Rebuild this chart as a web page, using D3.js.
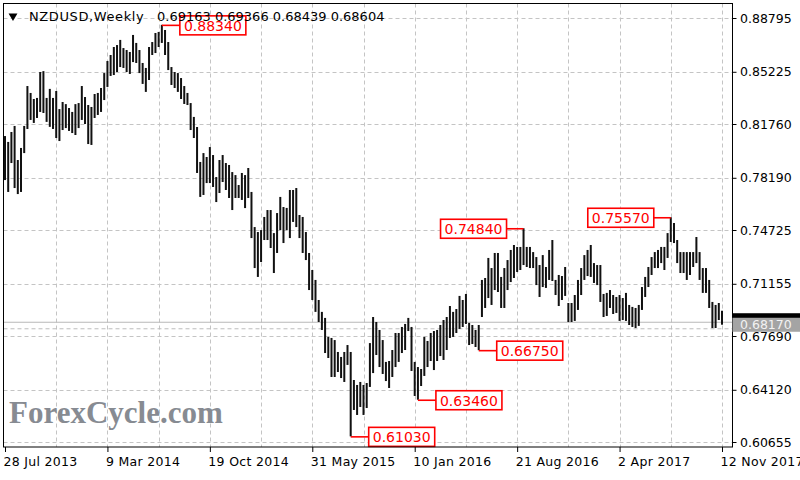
<!DOCTYPE html>
<html>
<head>
<meta charset="utf-8">
<script src="https://cdn.jsdelivr.net/npm/d3@7"></script>
<style>
  html, body { margin: 0; padding: 0; background: #fff; }
  svg { display: block; font-family: "DejaVu Sans", Verdana, sans-serif; }
</style>
</head>
<body>
<svg id="chart" width="800" height="480"></svg>
<script>
// ---- chart data ----
const symbol = "NZDUSD,Weekly";
const lastBar = [0.69163, 0.69366, 0.68439, 0.68604]; // open high low close
const firstWeek = "28 Jul 2013";

const highs = [
  0.8096, 0.8057, 0.8123, 0.8163, 0.7937, 0.8017, 0.8163, 0.8428, 0.8382, 0.8342,
  0.8349, 0.8521, 0.8527, 0.8349, 0.8409, 0.8349, 0.8395, 0.8275, 0.8322, 0.8308,
  0.8282, 0.8256, 0.8308, 0.8315, 0.8428, 0.8355, 0.8302, 0.8289, 0.8375, 0.8382,
  0.8415, 0.8514, 0.8594, 0.8634, 0.8687, 0.8700, 0.8734, 0.8680, 0.8667, 0.8654,
  0.8767, 0.8714, 0.8667, 0.8581, 0.8548, 0.8687, 0.8720, 0.8780, 0.8787, 0.8834,
  0.8800, 0.8720, 0.8554, 0.8521, 0.8514, 0.8481, 0.8428, 0.8382, 0.8315, 0.8223,
  0.8156, 0.7924, 0.7983, 0.7957, 0.8023, 0.7970, 0.7824, 0.7937, 0.7970, 0.7917,
  0.7904, 0.7857, 0.7837, 0.7771, 0.7851, 0.7837, 0.7884, 0.7725, 0.7492, 0.7459,
  0.7472, 0.7559, 0.7605, 0.7605, 0.7452, 0.7585, 0.7692, 0.7625, 0.7619, 0.7738,
  0.7738, 0.7751, 0.7572, 0.7559, 0.7459, 0.7320, 0.7207, 0.7141, 0.7008, 0.6929,
  0.6889, 0.6763, 0.6756, 0.6742, 0.6663, 0.6630, 0.6663, 0.6709, 0.6663, 0.6477,
  0.6444, 0.6464, 0.6444, 0.6457, 0.6722, 0.6895, 0.6862, 0.6809, 0.6742, 0.6597,
  0.6603, 0.6676, 0.6789, 0.6789, 0.6829, 0.6849, 0.6889, 0.6829, 0.6597, 0.6563,
  0.6550, 0.6763, 0.6736, 0.6789, 0.6802, 0.6809, 0.6842, 0.6875, 0.6895, 0.6968,
  0.6929, 0.6948, 0.7035, 0.7008, 0.7048, 0.6856, 0.6842, 0.6809, 0.6842, 0.7141,
  0.7154, 0.7287, 0.7220, 0.7320, 0.7320, 0.7161, 0.7220, 0.7273, 0.7340, 0.7373,
  0.7360, 0.7360, 0.7484, 0.7360, 0.7360, 0.7326, 0.7293, 0.7240, 0.7306, 0.7227,
  0.7340, 0.7406, 0.7141, 0.7174, 0.7167, 0.7227, 0.6988, 0.6988, 0.7041, 0.7141,
  0.7220, 0.7306, 0.7340, 0.7373, 0.7253, 0.7240, 0.7240, 0.7048, 0.7055, 0.7074,
  0.7041, 0.7028, 0.7041, 0.7021, 0.7055, 0.6975, 0.6962, 0.6955, 0.6975, 0.7094,
  0.7161, 0.7227, 0.7293, 0.7326, 0.7340, 0.7360, 0.7360, 0.7452, 0.7557, 0.7519,
  0.7406, 0.7326, 0.7326, 0.7326, 0.7326, 0.7326, 0.7426, 0.7326, 0.7220, 0.7220,
  0.7141, 0.6995, 0.6975, 0.6988, 0.69366
];

const lows = [
  0.7804, 0.7725, 0.7917, 0.7751, 0.7711, 0.7725, 0.7983, 0.8143, 0.8203, 0.8183,
  0.8216, 0.8256, 0.8249, 0.8190, 0.8157, 0.8143, 0.8083, 0.8063, 0.8136, 0.8149,
  0.8130, 0.8116, 0.8103, 0.8149, 0.8203, 0.8176, 0.8043, 0.8037, 0.8216, 0.8236,
  0.8256, 0.8335, 0.8422, 0.8495, 0.8501, 0.8521, 0.8554, 0.8548, 0.8521, 0.8508,
  0.8587, 0.8581, 0.8514, 0.8442, 0.8389, 0.8468, 0.8634, 0.8647, 0.8687, 0.8714,
  0.8634, 0.8534, 0.8435, 0.8415, 0.8389, 0.8342, 0.8309, 0.8302, 0.8136, 0.8083,
  0.7851, 0.7692, 0.7705, 0.7784, 0.7784, 0.7758, 0.7658, 0.7718, 0.7791, 0.7738,
  0.7685, 0.7605, 0.7685, 0.7685, 0.7672, 0.7618, 0.7685, 0.7419, 0.7220, 0.7161,
  0.7260, 0.7406, 0.7406, 0.7353, 0.7187, 0.7320, 0.7472, 0.7386, 0.7472, 0.7419,
  0.7526, 0.7492, 0.7419, 0.7320, 0.7273, 0.7074, 0.7008, 0.6929, 0.6862, 0.6809,
  0.6656, 0.6623, 0.6497, 0.6497, 0.6530, 0.6490, 0.6464, 0.6577, 0.6103, 0.6278,
  0.6245, 0.6298, 0.6245, 0.6291, 0.6431, 0.6523, 0.6643, 0.6563, 0.6517, 0.6470,
  0.6424, 0.6497, 0.6563, 0.6597, 0.6656, 0.6676, 0.6802, 0.6537, 0.6371, 0.6346,
  0.6437, 0.6504, 0.6563, 0.6603, 0.6543, 0.6603, 0.6636, 0.6610, 0.6676, 0.6756,
  0.6763, 0.6789, 0.6816, 0.6829, 0.6849, 0.6709, 0.6716, 0.6696, 0.6675, 0.6895,
  0.6955, 0.7021, 0.6975, 0.7074, 0.7061, 0.6955, 0.6955, 0.7074, 0.7127, 0.7154,
  0.7194, 0.7207, 0.7240, 0.7227, 0.7220, 0.7220, 0.7107, 0.7028, 0.7094, 0.7088,
  0.7141, 0.7134, 0.7041, 0.6968, 0.7008, 0.7035, 0.6862, 0.6862, 0.6869, 0.6942,
  0.7041, 0.7141, 0.7167, 0.7161, 0.7121, 0.7107, 0.6995, 0.6895, 0.6902, 0.6955,
  0.6915, 0.6922, 0.6869, 0.6875, 0.6869, 0.6842, 0.6829, 0.6822, 0.6836, 0.6942,
  0.7028, 0.7094, 0.7174, 0.7220, 0.7220, 0.7253, 0.7207, 0.7287, 0.7393, 0.7386,
  0.7253, 0.7187, 0.7187, 0.7141, 0.7174, 0.7227, 0.7253, 0.7141, 0.7055, 0.7055,
  0.6955, 0.6822, 0.6822, 0.6875, 0.68439
];

const dateLabels = ["28 Jul 2013", "9 Mar 2014", "19 Oct 2014", "31 May 2015",
                    "10 Jan 2016", "21 Aug 2016", "2 Apr 2017", "12 Nov 2017"];
const priceTicks = [0.88795, 0.85225, 0.81760, 0.78190, 0.74725,
                    0.71155, 0.67690, 0.64120, 0.60655];
const levelLine = 0.68170;

// swing highs / lows marked with red boxes (week index from first bar)
const swingWeeks  = [49, 108, 129, 148, 162, 208];
const swingPrices = [0.88340, 0.61030, 0.63460, 0.66750, 0.74840, 0.75570];
const swingSides  = ["right", "right", "right", "right", "left", "left"];

// ---- layout ----
const frame = { left: 3.5, top: 3.5, right: 732.5, bottom: 447 };
const gridColor = "#c4c4c4";
const fmt = d3.format(".5f");
const parseDay = d3.timeParse("%d %b %Y");

const svg = d3.select("#chart");
const start = parseDay(firstWeek);
const weeks = highs.map((_, i) => d3.timeWeek.offset(start, i));

const x = d3.scaleTime()
    .domain([start, parseDay(dateLabels[dateLabels.length - 1])])
    .range([5, 722]);
const y = d3.scaleLinear()
    .domain([priceTicks[priceTicks.length - 1], priceTicks[0]])
    .range([442, 18]);

svg.append("defs").append("clipPath").attr("id", "plotClip")
  .append("rect")
    .attr("x", frame.left).attr("y", frame.top)
    .attr("width", frame.right - frame.left)
    .attr("height", frame.bottom - frame.top);

const plot = svg.append("g").attr("clip-path", "url(#plotClip)");

// grid
const gridWeeks = d3.range(16, highs.length, 16).map(i => weeks[i]);
plot.append("g").selectAll("line").data(gridWeeks).join("line")
    .attr("x1", d => Math.round(x(d)) + 0.5).attr("x2", d => Math.round(x(d)) + 0.5)
    .attr("y1", frame.top).attr("y2", frame.bottom)
    .attr("stroke", gridColor).attr("stroke-dasharray", "4,3");
plot.append("g").selectAll("line").data(priceTicks).join("line")
    .attr("x1", frame.left).attr("x2", frame.right)
    .attr("y1", d => Math.round(y(d)) + 0.5).attr("y2", d => Math.round(y(d)) + 0.5)
    .attr("stroke", gridColor).attr("stroke-dasharray", "4,3");

// bid line and user level
plot.append("line")
    .attr("x1", frame.left).attr("x2", frame.right)
    .attr("y1", y(lastBar[3])).attr("y2", y(lastBar[3]))
    .attr("stroke", "#b8b8b8").attr("stroke-width", 1.2);
plot.append("line")
    .attr("x1", frame.left).attr("x2", frame.right)
    .attr("y1", y(levelLine)).attr("y2", y(levelLine))
    .attr("stroke", "#bdbdbd").attr("stroke-dasharray", "4,3");

// watermark
svg.append("text")
    .attr("x", 9).attr("y", 423)
    .attr("font-family", "'Liberation Serif', 'DejaVu Serif', serif")
    .attr("font-weight", "bold").attr("font-size", 31)
    .attr("fill", "#878b92")
    .text("ForexCycle.com");

// weekly bars (high-low)
plot.append("g").selectAll("rect").data(weeks).join("rect")
    .attr("x", d => x(d) - 1)
    .attr("width", 2)
    .attr("y", (d, i) => y(highs[i]))
    .attr("height", (d, i) => Math.max(1, y(lows[i]) - y(highs[i])))
    .attr("fill", "#111");

// swing labels
const marks = svg.append("g");
swingWeeks.forEach((w, k) => {
  const bx = x(weeks[w]);
  const by = y(swingPrices[k]);
  const boxW = 66, boxH = 19;
  const right = swingSides[k] === "right";
  const left = right ? bx + 18 : bx - 17 - boxW;
  marks.append("line")
      .attr("x1", bx).attr("x2", right ? left : left + boxW)
      .attr("y1", by + 0.5).attr("y2", by + 0.5)
      .attr("stroke", "#ff0000").attr("stroke-width", 1.6);
  marks.append("rect")
      .attr("x", left).attr("y", by - 9)
      .attr("width", boxW).attr("height", boxH)
      .attr("fill", "#fff").attr("stroke", "#ff0000").attr("stroke-width", 1.6);
  marks.append("text")
      .attr("x", left + boxW / 2).attr("y", by + 6)
      .attr("text-anchor", "middle")
      .attr("font-size", 14).attr("fill", "#ff0000")
      .text(fmt(swingPrices[k]));
});

// frame
svg.append("rect")
    .attr("x", frame.left).attr("y", frame.top)
    .attr("width", frame.right - frame.left)
    .attr("height", frame.bottom - frame.top)
    .attr("fill", "none").attr("stroke", "#000");

// axes
const xAxis = svg.append("g")
    .attr("transform", `translate(0,${frame.bottom})`)
    .call(d3.axisBottom(x)
      .tickValues(dateLabels.map(parseDay))
      .tickSize(5).tickSizeOuter(0)
      .tickFormat((d, i) => dateLabels[i]));
xAxis.select(".domain").remove();
xAxis.selectAll(".tick line").attr("stroke", "#000");
xAxis.selectAll(".tick text")
    .attr("text-anchor", "start").attr("x", -2).attr("y", 10)
    .attr("font-family", "'DejaVu Sans', Verdana, sans-serif")
    .attr("font-size", 12.5).attr("letter-spacing", 0.3).attr("fill", "#000");

const yAxis = svg.append("g")
    .attr("transform", `translate(${frame.right},0)`)
    .call(d3.axisRight(y)
      .tickValues(priceTicks)
      .tickSize(4).tickSizeOuter(0)
      .tickFormat(fmt));
yAxis.select(".domain").remove();
yAxis.selectAll(".tick line").attr("stroke", "#000");
yAxis.selectAll(".tick text")
    .attr("x", 7.5)
    .attr("font-family", "'DejaVu Sans', Verdana, sans-serif")
    .attr("font-size", 12.5).attr("fill", "#000");

// price labels on the right axis
svg.append("rect")
    .attr("x", frame.right + 0.5).attr("y", y(lastBar[3]) - 9)
    .attr("width", 800 - frame.right).attr("height", 14)
    .attr("fill", "#000");
svg.append("rect")
    .attr("x", frame.right).attr("y", y(levelLine) - 11)
    .attr("width", 800 - frame.right).attr("height", 14)
    .attr("fill", "#a4a4a4");
svg.append("text")
    .attr("x", frame.right + 7.5).attr("y", y(levelLine) + 0.5)
    .attr("font-size", 12.5).attr("fill", "#f2f2f2")
    .text(fmt(levelLine));

// header
svg.append("path")
    .attr("d", d3.symbol(d3.symbolTriangle, 34)())
    .attr("transform", "translate(13,16) rotate(180)")
    .attr("fill", "#000");
svg.append("text")
    .attr("x", 29).attr("y", 21)
    .attr("font-size", 13).attr("letter-spacing", 0.6).attr("fill", "#000")
    .text(symbol);
svg.append("text")
    .attr("x", 157).attr("y", 21)
    .attr("font-size", 13).attr("fill", "#000")
    .text(lastBar.map(fmt).join(" "));
</script>
</body>
</html>
